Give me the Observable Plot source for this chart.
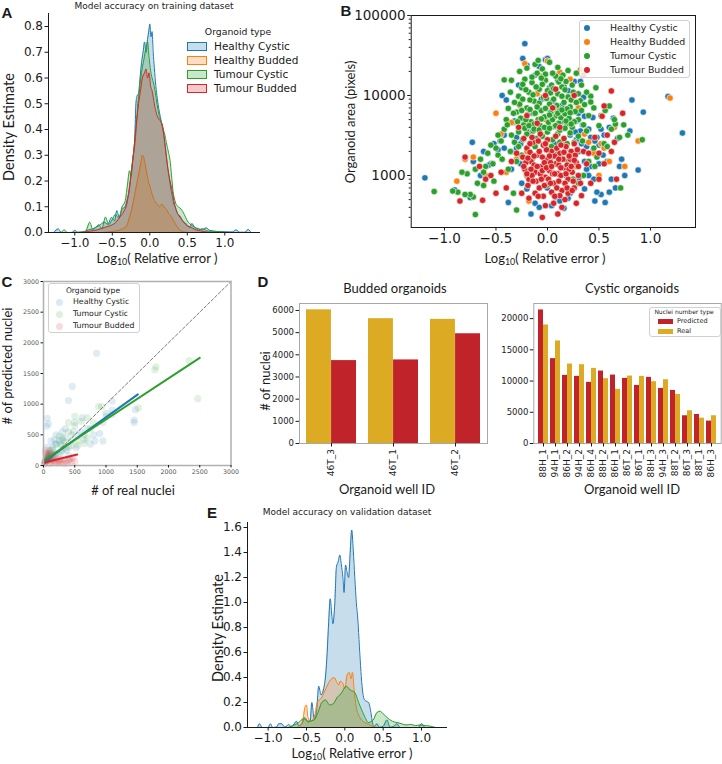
<!DOCTYPE html>
<html>
<head>
<meta charset="utf-8">
<script src="https://cdn.jsdelivr.net/npm/d3@7"></script>
<script src="https://cdn.jsdelivr.net/npm/@observablehq/plot@0.6"></script>
<style>
  html, body { margin: 0; padding: 0; background: #fff; }
  #fig { position: relative; width: 722px; height: 764px; overflow: hidden; background: #fff; font-family: "DejaVu Sans", sans-serif; color: #1a1a1a; }
  #fig svg { position: absolute; overflow: visible; }
  .t { position: absolute; transform: translate(-50%, -50%); white-space: nowrap; line-height: 1; }
  .cal { font-family: Lato, "Open Sans", sans-serif; font-size: 13px; }
  .ttl { font-family: "DejaVu Sans", sans-serif; font-size: 9px; }
  .letter { font-family: "Liberation Sans", Arial, sans-serif; font-weight: bold; font-size: 15px; }
  sub { font-size: 0.68em; vertical-align: -0.3em; line-height: 0; }
  .box { position: absolute; background: rgba(255,255,255,0.85); border: 1px solid #d0d0d0; border-radius: 3px; box-sizing: border-box; }
  .lg { position: absolute; white-space: nowrap; line-height: 1; transform: translateY(-50%); font-family: "DejaVu Sans", sans-serif; }
  .sw { position: absolute; box-sizing: border-box; }
</style>
</head>
<body>
<div id="fig"></div>
<script>
// ---------------------------------------------------------------
// Categories and colours
// ---------------------------------------------------------------
const organoidTypes = ["Healthy Cystic", "Healthy Budded", "Tumour Cystic", "Tumour Budded"];
const typeColors = ["#1f77b4", "#ff7f0e", "#2ca02c", "#d62728"];
const errorTicks = [-1.0, -0.5, 0.0, 0.5, 1.0];

// ---------------------------------------------------------------
// A: density of log10 relative error, training dataset  [x, density]
// ---------------------------------------------------------------
const trainHealthyCystic = [[-1.28,0],[-1.22,0.014],[-1.18,0],[-1.04,0],[-1.0,0.008],[-0.96,0],[-0.88,0.003],[-0.82,0.01],[-0.76,0.014],[-0.72,0.02],[-0.66,0.03],[-0.61,0.04],[-0.56,0.032],[-0.51,0.058],[-0.47,0.045],[-0.44,0.085],[-0.41,0.06],[-0.37,0.09],[-0.33,0.1],[-0.3,0.13],[-0.27,0.17],[-0.25,0.23],[-0.22,0.3],[-0.2,0.37],[-0.185,0.5],[-0.17,0.53],[-0.15,0.54],[-0.13,0.6],[-0.11,0.66],[-0.09,0.7],[-0.07,0.74],[-0.05,0.7],[-0.03,0.75],[-0.01,0.79],[0.0,0.81],[0.015,0.76],[0.03,0.78],[0.045,0.7],[0.06,0.64],[0.08,0.57],[0.1,0.52],[0.12,0.48],[0.14,0.45],[0.16,0.42],[0.18,0.39],[0.2,0.35],[0.22,0.3],[0.24,0.25],[0.26,0.21],[0.28,0.17],[0.3,0.14],[0.32,0.11],[0.34,0.1],[0.36,0.08],[0.38,0.07],[0.4,0.065],[0.43,0.05],[0.46,0.04],[0.5,0.03],[0.53,0.02],[0.56,0.035],[0.6,0.02],[0.65,0.015],[0.7,0.01],[0.75,0.018],[0.8,0.008],[0.9,0.004],[1.0,0.003],[1.1,0.002],[1.15,0.01],[1.2,0.001],[1.27,0.001],[1.31,0.012],[1.35,0]];
const trainHealthyBudded = [[-0.62,0],[-0.5,0.004],[-0.42,0.008],[-0.36,0.015],[-0.31,0.025],[-0.28,0.05],[-0.25,0.08],[-0.22,0.12],[-0.2,0.15],[-0.18,0.18],[-0.16,0.21],[-0.14,0.24],[-0.12,0.27],[-0.1,0.3],[-0.08,0.29],[-0.06,0.26],[-0.04,0.23],[-0.02,0.2],[0.0,0.18],[0.02,0.16],[0.04,0.14],[0.07,0.12],[0.1,0.11],[0.13,0.1],[0.16,0.11],[0.19,0.1],[0.22,0.09],[0.25,0.075],[0.28,0.065],[0.31,0.05],[0.34,0.035],[0.37,0.02],[0.41,0.008],[0.46,0.002],[0.52,0]];
const trainTumourCystic = [[-1.18,0],[-1.14,0.01],[-1.1,0],[-0.86,0.003],[-0.8,0.04],[-0.76,0.01],[-0.72,0.02],[-0.68,0.03],[-0.64,0.015],[-0.59,0.06],[-0.55,0.03],[-0.5,0.05],[-0.46,0.07],[-0.41,0.055],[-0.37,0.1],[-0.33,0.12],[-0.3,0.18],[-0.27,0.24],[-0.25,0.22],[-0.23,0.28],[-0.2,0.34],[-0.18,0.41],[-0.16,0.5],[-0.14,0.55],[-0.12,0.6],[-0.1,0.64],[-0.08,0.67],[-0.05,0.72],[-0.03,0.74],[-0.01,0.68],[0.01,0.63],[0.03,0.6],[0.05,0.58],[0.07,0.55],[0.09,0.51],[0.12,0.46],[0.15,0.43],[0.18,0.4],[0.2,0.38],[0.22,0.35],[0.25,0.31],[0.27,0.28],[0.29,0.22],[0.31,0.16],[0.33,0.13],[0.35,0.11],[0.38,0.1],[0.42,0.09],[0.46,0.07],[0.5,0.045],[0.55,0.03],[0.6,0.02],[0.65,0.01],[0.7,0.015],[0.78,0.005],[0.9,0.004],[1.0,0]];
const trainTumourBudded = [[-0.9,0],[-0.8,0.005],[-0.7,0.01],[-0.6,0.02],[-0.5,0.03],[-0.45,0.04],[-0.4,0.06],[-0.35,0.08],[-0.3,0.12],[-0.27,0.18],[-0.25,0.22],[-0.22,0.3],[-0.2,0.36],[-0.18,0.42],[-0.15,0.5],[-0.12,0.56],[-0.1,0.6],[-0.07,0.62],[-0.05,0.635],[-0.03,0.6],[-0.01,0.62],[0.01,0.57],[0.03,0.55],[0.06,0.5],[0.09,0.46],[0.12,0.44],[0.15,0.43],[0.17,0.415],[0.19,0.37],[0.21,0.32],[0.23,0.27],[0.25,0.23],[0.27,0.2],[0.3,0.16],[0.33,0.11],[0.36,0.08],[0.4,0.06],[0.45,0.04],[0.5,0.025],[0.55,0.02],[0.6,0.012],[0.7,0.005],[0.8,0]];
const trainDensityTicks = [0, 0.1, 0.2, 0.3, 0.4, 0.5, 0.6, 0.7, 0.8];

// ---------------------------------------------------------------
// B: organoid area vs log10 relative error  [x, area in pixels]
// ---------------------------------------------------------------
const areaHealthyCystic = [[-1.19,935],[-0.9,660],[-0.75,530],[-0.72,1500],[-0.73,2600],[-0.62,2000],[-0.55,1400],[-0.52,2500],[-0.48,2100],[-0.44,10000],[-0.42,3200],[-0.4,8800],[-0.38,460],[-0.35,2000],[-0.33,4600],[-0.3,3000],[-0.28,13500],[-0.25,800],[-0.22,44500],[-0.24,29000],[-0.2,24000],[-0.18,3500],[-0.16,330],[-0.14,6000],[-0.12,18000],[-0.1,2700],[-0.08,23000],[-0.06,9000],[-0.04,5200],[-0.02,28000],[0.0,700],[0.02,12500],[0.04,1700],[0.06,5800],[0.08,540],[0.1,15500],[0.12,3700],[0.14,7500],[0.16,390],[0.18,2200],[0.2,11500],[0.22,600],[0.24,6200],[0.26,15000],[0.28,2800],[0.3,900],[0.32,15000],[0.34,4300],[0.36,680],[0.38,2300],[0.4,3800],[0.42,1300],[0.44,5300],[0.46,480],[0.48,3000],[0.5,2400],[0.52,580],[0.54,1800],[0.56,460],[0.58,1500],[0.6,4000],[0.62,900],[0.64,5200],[0.66,700],[0.68,2900],[0.7,1300],[0.75,1000],[0.8,3600],[0.82,8800],[0.88,1170],[0.93,6200],[1.17,9700],[1.31,3400],[0.6,620],[-0.3,2200],[-0.26,1400],[-0.2,680],[-0.12,450],[0.04,420],[0.12,480],[0.18,1000],[0.25,1300],[0.32,3600],[-0.15,1600],[-0.05,1200],[0.07,2500],[0.15,4800],[0.22,3200],[0.35,9500],[0.28,4800],[-0.32,4800],[-0.46,2700],[0.44,2000],[0.5,1400],[0.4,1000],[0.3,2000],[0.36,1500],[0.55,3200],[0.72,1600],[-0.57,1350],[-0.65,1000],[0.0,29000],[-0.26,2500],[-0.22,4500],[-0.1,8000],[0.05,8500],[0.16,13000],[-0.04,16000],[0.27,3500],[0.33,2500],[0.38,1200],[0.42,3000],[0.46,2700],[0.52,3800],[0.3,6000],[0.36,5500],[-0.35,1200],[-0.42,2200],[0.45,900],[0.48,620],[0.2,520],[-0.08,400]];
const areaHealthyBudded = [[-0.88,850],[-0.8,1600],[-0.72,1700],[-0.6,1000],[-0.5,6000],[-0.45,3300],[-0.4,1100],[-0.35,4600],[-0.3,1600],[-0.27,7500],[-0.22,25000],[-0.18,480],[-0.15,3900],[-0.1,10500],[-0.05,17500],[0.0,27000],[0.05,600],[0.08,6600],[0.12,19500],[0.18,2300],[0.22,16000],[0.28,1300],[0.32,21000],[0.36,3300],[0.4,2600],[0.45,1900],[0.5,1000],[0.52,2500],[0.55,2200],[0.6,1500],[0.65,4000],[0.75,1300],[0.88,2700],[1.19,9300],[-0.02,5000],[0.1,1400],[0.25,900],[-0.2,2000],[0.3,7000]];
const areaTumourCystic = [[-0.28,9800],[-0.25,12500],[-0.22,16000],[-0.2,7000],[-0.18,11000],[-0.15,14500],[-0.13,8500],[-0.1,19000],[-0.08,12000],[-0.06,6500],[-0.04,9500],[-0.02,15500],[0.0,11500],[0.02,7800],[0.04,13500],[0.06,9000],[0.08,17500],[0.1,10500],[0.12,6800],[0.14,12800],[0.16,8200],[0.18,15000],[0.2,9600],[0.22,7200],[0.25,11000],[-0.3,6200],[-0.26,5200],[-0.23,4300],[-0.19,5800],[-0.16,4700],[-0.12,6000],[-0.09,5000],[-0.07,4200],[-0.03,5400],[0.01,4600],[0.03,6100],[0.05,5000],[0.07,4100],[0.09,5600],[0.11,4500],[0.13,5300],[0.15,4000],[0.17,5900],[0.19,4400],[0.21,5200],[0.24,4000],[0.27,6300],[0.3,5000],[0.32,8600],[0.35,4300],[-0.35,3200],[-0.32,2600],[-0.28,3500],[-0.24,2800],[-0.2,3300],[-0.17,2500],[-0.14,3600],[-0.11,2900],[-0.05,3100],[0.0,3500],[0.05,2800],[0.1,3300],[0.16,2700],[0.22,3400],[0.26,2600],[0.3,3100],[0.34,2700],[0.38,3600],[-0.2,22000],[-0.12,24500],[-0.05,21500],[0.02,26000],[-0.27,20000],[0.1,22500],[0.2,20500],[0.28,19000],[-0.09,27500],[0.15,18000],[-0.35,15500],[-0.02,18500],[0.4,5600],[0.42,9800],[0.45,7000],[0.47,12500],[0.5,4200],[0.52,5600],[0.56,6500],[0.6,7400],[0.62,3800],[0.66,4400],[0.7,3000],[0.74,4300],[0.78,3200],[0.92,2800],[0.55,2500],[0.45,2200],[0.4,1500],[0.48,1700],[0.42,8300],[0.38,11000],[0.33,13500],[0.3,10500],[0.65,5000],[0.58,2300],[0.71,700],[0.46,1300],[-0.4,5000],[-0.42,3800],[-0.45,2700],[-0.48,1800],[-0.5,2200],[-0.53,1400],[-0.55,2400],[-0.58,1900],[-0.6,1300],[-0.62,1100],[-0.65,1600],[-0.68,800],[-0.7,1200],[-0.72,540],[-0.75,580],[-0.78,1050],[-0.8,580],[-0.83,1100],[-0.87,620],[-0.92,640],[-1.1,630],[-0.7,325],[-0.38,1200],[-0.44,1600],[-0.36,2000],[-0.52,850],[-0.62,750],[-0.39,4300],[-0.48,3200],[-0.42,15700],[-0.33,6000],[-0.3,1500],[-0.33,600],[-0.3,370],[-0.25,1800],[-0.15,1600],[0.1,1900],[0.2,1500],[0.25,900],[0.3,800],[-0.2,1000],[0.0,760],[0.35,1000],[-0.27,7800],[-0.24,9000],[-0.21,11800],[-0.17,8800],[-0.14,10200],[-0.11,12800],[-0.08,8000],[-0.05,13800],[-0.01,9200],[0.03,10800],[0.06,12200],[0.09,7500],[0.11,14800],[0.14,9800],[0.17,11800],[0.19,6800],[0.23,8800],[-0.29,4700],[-0.25,6500],[-0.21,5000],[-0.17,6700],[-0.13,4400],[-0.1,7200],[-0.06,5100],[-0.02,6900],[0.02,5700],[0.06,7000],[0.1,6000],[0.14,6600],[0.18,4800],[0.22,6100],[0.26,4700],[-0.22,3900],[-0.18,4200],[-0.13,3800],[-0.08,3700],[-0.03,4000],[0.02,3900],[0.08,4200],[0.12,3700],[0.17,3900],[0.23,4400],[-0.15,17000],[-0.06,16500],[0.05,19000],[0.13,16200],[-0.24,13800],[0.24,13500],[-0.32,8200],[0.28,8200],[-0.36,11000],[0.33,6500],[-0.38,6900],[0.36,7700],[-0.12,2300],[0.04,2300],[0.19,2500],[-0.28,2300],[0.12,2600]];
const areaTumourBudded = [[-0.24,1700],[-0.22,1200],[-0.2,2200],[-0.18,900],[-0.16,1500],[-0.14,2600],[-0.12,1100],[-0.1,1800],[-0.08,700],[-0.06,1300],[-0.04,2400],[-0.02,950],[0.0,1600],[0.02,1150],[0.04,2000],[0.06,800],[0.08,1400],[0.1,1050],[0.12,1900],[0.14,650],[0.16,1250],[0.18,2300],[0.2,900],[0.22,1600],[0.24,1100],[0.26,700],[0.28,1450],[0.3,1000],[-0.21,1450],[-0.17,1950],[-0.13,1350],[-0.09,2700],[-0.05,1700],[-0.01,2100],[0.03,1450],[0.07,1750],[0.11,1350],[0.15,1600],[0.19,1350],[0.23,2000],[0.27,1800],[-0.19,750],[-0.15,1000],[-0.11,850],[-0.07,1050],[-0.03,750],[0.01,900],[0.05,1050],[0.09,700],[0.13,1000],[0.17,800],[0.21,1200],[0.25,850],[-0.23,2900],[-0.15,3000],[-0.07,3300],[0.0,2800],[0.08,3100],[0.16,2900],[0.26,2500],[-0.12,600],[-0.04,550],[0.04,620],[0.12,560],[0.2,600],[-0.02,420],[0.06,450],[0.14,400],[-0.05,300],[0.1,330],[-0.25,600],[0.28,450],[0.33,560],[-0.1,4500],[0.05,7000],[-0.02,10000],[0.12,4000],[-0.2,5600],[0.26,10000],[-0.28,4000],[0.08,12000],[-0.85,480],[-0.8,1700],[-0.63,490],[-0.66,1300],[-0.6,900],[-0.55,1000],[-0.5,600],[-0.45,1100],[-0.4,700],[-0.35,1500],[-0.3,1900],[0.35,2000],[0.38,1400],[0.42,800],[0.46,3000],[0.5,1900],[0.53,5500],[0.55,7400],[0.58,3200],[0.62,11400],[0.65,2600],[0.67,900],[0.73,6000],[0.5,900],[0.4,1900],[0.35,18000],[0.55,1400],[0.62,2000],[-0.23,1300],[-0.19,1650],[-0.16,1200],[-0.13,1750],[-0.1,1300],[-0.08,2000],[-0.05,1150],[-0.03,1450],[-0.01,1250],[0.02,1750],[0.04,1300],[0.07,1050],[0.09,2200],[0.11,1600],[0.13,1250],[0.16,1950],[0.18,1050],[0.21,1750],[0.23,1300],[0.26,1550],[-0.2,1050],[-0.14,850],[-0.06,900],[0.03,800],[0.11,850],[0.19,700],[0.24,650],[-0.17,2500],[-0.02,2500],[0.13,2400],[0.29,2100],[-0.09,550],[0.07,550],[0.17,500],[-0.18,520],[0.3,1300],[0.32,800]];
const areaMajorTicks = [1000, 10000, 100000];
const areaMinorTicks = [300, 400, 500, 600, 700, 800, 900, 2000, 3000, 4000, 5000, 6000, 7000, 8000, 9000, 20000, 30000, 40000, 50000, 60000, 70000, 80000, 90000];

// ---------------------------------------------------------------
// C: predicted vs real nuclei per organoid  [real, predicted]
// ---------------------------------------------------------------
const countHealthyCystic = [[850,1830],[460,1290],[400,1060],[60,770],[80,680],[50,640],[1450,700],[1450,740],[1470,910],[1100,1050],[1100,900],[620,780],[700,600],[800,500],[900,520],[500,700],[300,550],[350,450],[250,400],[200,350],[150,300],[120,250],[100,200],[80,150],[60,120],[40,80],[20,50],[450,400],[550,480],[650,420],[750,350],[400,300],[300,250],[200,200],[180,420],[350,600],[480,550],[600,550],[1000,850],[950,700],[250,180],[150,120],[100,90],[60,300],[30,200],[520,290],[400,160],[270,350],[370,250],[820,400],[950,400],[120,400],[200,500],[300,420],[130,170]];
const countTumourCystic = [[1800,1610],[1780,1560],[2330,1710],[2470,1090],[1520,940],[930,960],[880,960],[700,780],[600,720],[500,650],[400,550],[300,450],[200,350],[150,250],[100,200],[250,480],[350,380],[450,500],[550,400],[650,500],[750,600],[800,700],[650,360],[550,330],[450,320],[350,280],[280,220],[180,170],[120,120],[80,90],[300,330],[500,800],[400,700],[700,450],[1000,800],[1100,830],[60,150],[40,80]];
const countTumourBudded = [[500,70],[450,60],[400,80],[350,70],[300,100],[250,90],[200,120],[150,130],[100,150],[80,110],[60,90],[40,70],[20,40],[10,20],[50,200],[30,250],[70,180],[120,60],[170,50],[220,40],[280,50],[320,30],[380,40],[420,110],[470,130],[100,30],[150,80],[200,70],[250,60],[50,130],[30,100],[90,240],[130,200]];
// linear fits (endpoints) and the identity line
const fitHealthyCystic = [[20,70],[1510,1160]];
const fitTumourCystic = [[10,90],[2500,1755]];
const fitTumourBudded = [[0,45],[540,178]];
const identityLine = [[0,0],[3000,3000]];
const countTicks = [0, 500, 1000, 1500, 2000, 2500, 3000];

// ---------------------------------------------------------------
// D: nuclei counts per organoid well
// ---------------------------------------------------------------
const buddedWells = ["46T_3", "46T_1", "46T_2"];
const buddedReal = [6030, 5630, 5600];
const buddedPredicted = [3740, 3770, 4950];
const buddedTicks = [0, 1000, 2000, 3000, 4000, 5000, 6000];

const cysticWells = ["88H_1","94H_1","86H_2","94H_2","86H_4","88H_2","86H_1","86T_2","86T_1","88H_3","94H_3","88T_2","86T_3","88T_1","86H_3"];
const cysticPredicted = [21390, 13590, 10910, 10750, 9790, 11600, 10960, 10430, 9300, 10590, 8820, 8500, 4440, 4650, 3590];
const cysticReal = [18980, 16420, 12730, 12620, 12030, 10380, 8670, 10800, 10750, 9890, 10210, 7860, 5240, 4060, 4440];
const cysticTicks = [0, 5000, 10000, 15000, 20000];
const nucleiTypes = ["Predicted", "Real"];
const nucleiColors = ["#c1232a", "#dcab23"];

// ---------------------------------------------------------------
// E: density of log10 relative error, validation dataset
// ---------------------------------------------------------------
const validHealthyCystic = [[-1.14,0],[-1.11,0.03],[-1.08,0],[-1.0,0],[-0.97,0.03],[-0.94,0],[-0.89,0.005],[-0.86,0.03],[-0.82,0.03],[-0.79,0.005],[-0.76,0.01],[-0.73,0.025],[-0.7,0.005],[-0.66,0.03],[-0.63,0.05],[-0.6,0.015],[-0.56,0.03],[-0.52,0.08],[-0.48,0.04],[-0.45,0.06],[-0.43,0.2],[-0.4,0.07],[-0.37,0.12],[-0.34,0.33],[-0.31,0.26],[-0.28,0.3],[-0.25,0.42],[-0.23,0.6],[-0.21,0.85],[-0.19,1.03],[-0.17,0.9],[-0.155,0.83],[-0.13,1.0],[-0.11,1.28],[-0.085,1.33],[-0.065,1.38],[-0.045,1.3],[-0.025,1.2],[-0.01,1.08],[0.01,1.3],[0.03,1.24],[0.05,1.2],[0.07,1.4],[0.09,1.58],[0.11,1.42],[0.13,1.2],[0.15,1.0],[0.17,0.86],[0.19,0.65],[0.21,0.45],[0.23,0.3],[0.25,0.23],[0.28,0.21],[0.31,0.2],[0.34,0.12],[0.36,0.04],[0.38,0.005],[0.42,0.03],[0.45,0.002],[0.5,0.01],[0.55,0.06],[0.59,0.002],[0.64,0.01],[0.68,0.03],[0.72,0],[0.96,0],[1.0,0.03],[1.04,0]];
const validHealthyBudded = [[-0.62,0],[-0.58,0.02],[-0.55,0.05],[-0.52,0.16],[-0.5,0.18],[-0.48,0.08],[-0.45,0.05],[-0.42,0.06],[-0.39,0.1],[-0.36,0.2],[-0.33,0.22],[-0.3,0.24],[-0.27,0.28],[-0.24,0.32],[-0.2,0.37],[-0.17,0.39],[-0.14,0.4],[-0.11,0.37],[-0.08,0.34],[-0.06,0.37],[-0.03,0.36],[0.0,0.31],[0.03,0.42],[0.06,0.44],[0.08,0.39],[0.1,0.44],[0.12,0.31],[0.15,0.16],[0.18,0.1],[0.22,0.06],[0.26,0.04],[0.3,0.03],[0.34,0.015],[0.38,0.005],[0.42,0]];
const validTumourCystic = [[-0.74,0],[-0.66,0.02],[-0.6,0.04],[-0.54,0.07],[-0.47,0.05],[-0.4,0.06],[-0.35,0.12],[-0.3,0.2],[-0.25,0.22],[-0.2,0.18],[-0.15,0.19],[-0.1,0.24],[-0.05,0.27],[0.02,0.33],[0.07,0.3],[0.13,0.28],[0.18,0.2],[0.25,0.1],[0.31,0.04],[0.37,0.06],[0.42,0.12],[0.46,0.13],[0.5,0.11],[0.55,0.08],[0.62,0.05],[0.68,0.04],[0.74,0.03],[0.8,0.02],[0.86,0.025],[0.92,0.015],[0.98,0.02],[1.05,0.015],[1.12,0.01],[1.18,0]];
const validDensityTicks = [0, 0.2, 0.4, 0.6, 0.8, 1.0, 1.2, 1.4, 1.6];

// ---------------------------------------------------------------
// Layout helpers
// ---------------------------------------------------------------
const fig = document.getElementById("fig");
function place(node, left, top) {
  node.style.left = left + "px";
  node.style.top = top + "px";
  fig.appendChild(node);
  return node;
}
function text(html, x, y, cls, rotate) {
  const d = document.createElement("div");
  d.className = "t " + (cls || "");
  d.innerHTML = html;
  d.style.left = x + "px";
  d.style.top = y + "px";
  if (rotate) d.style.transform = "translate(-50%, -50%) rotate(-90deg)";
  fig.appendChild(d);
  return d;
}
function div(cls, css, html) {
  const d = document.createElement("div");
  d.className = cls;
  Object.assign(d.style, css);
  if (html) d.innerHTML = html;
  fig.appendChild(d);
  return d;
}
const signed = (v, digits) => v.toFixed(digits).replace("-", "\u2212");
const plain = d => String(d);
const styleAt = size => ({fontFamily: "DejaVu Sans", fontSize: size + "px", color: "#1a1a1a", background: "transparent", overflow: "visible"});
const pt = {x: d => d[0], y: d => d[1]};

// ---------------------------------------------------------------
// Density panel (A and E)
// ---------------------------------------------------------------
function densityPanel({series, width, height, margin, xDomain, yDomain, yTicks}) {
  const marks = [];
  series.forEach(s => {
    marks.push(Plot.areaY(s.values, {...pt, fill: s.color, fillOpacity: 0.25, curve: "monotone-x"}));
    marks.push(Plot.lineY(s.values, {...pt, stroke: s.color, strokeWidth: 1, curve: "monotone-x"}));
  });
  marks.push(
    Plot.ruleY([yDomain[0]], {stroke: "#1a1a1a", strokeWidth: 1}),
    Plot.ruleX([xDomain[0]], {stroke: "#1a1a1a", strokeWidth: 1}),
    Plot.axisY({ticks: yTicks, tickFormat: d => d.toFixed(1), tickSize: 3.5, tickPadding: 2, fontSize: 12, label: null}),
    Plot.axisX({ticks: errorTicks, tickFormat: d => signed(d, 1), tickSize: 3.5, tickPadding: 2, fontSize: 12, label: null})
  );
  return Plot.plot({
    width, height, ...margin,
    style: styleAt(12),
    x: {domain: xDomain},
    y: {domain: yDomain},
    marks
  });
}

// ---- A ----
place(densityPanel({
  series: [
    {values: trainHealthyCystic, color: typeColors[0]},
    {values: trainHealthyBudded, color: typeColors[1]},
    {values: trainTumourCystic, color: typeColors[2]},
    {values: trainTumourBudded, color: typeColors[3]}
  ],
  width: 270, height: 260,
  margin: {marginLeft: 48, marginRight: 10, marginTop: 13, marginBottom: 28},
  xDomain: [-1.351, 1.476], yDomain: [0, 0.8505], yTicks: trainDensityTicks
}), 0, 0);

// ---- B ----
const areaSets = [areaHealthyCystic, areaHealthyBudded, areaTumourCystic, areaTumourBudded];
place(Plot.plot({
  width: 392, height: 265,
  marginLeft: 80.7, marginRight: 27, marginTop: 15, marginBottom: 38,
  style: styleAt(13.5),
  x: {domain: [-1.323, 1.437]},
  y: {type: "log", domain: [224, 100000]},
  marks: [
    ...areaSets.map((pts, i) => Plot.dot(pts, {...pt, r: 3.2, fill: typeColors[i], stroke: "white", strokeWidth: 0.6})),
    Plot.frame({stroke: "#1a1a1a", strokeWidth: 1}),
    Plot.axisY({ticks: areaMajorTicks, tickFormat: plain, tickSize: 3.5, tickPadding: 2, fontSize: 13.5, label: null}),
    Plot.axisY({ticks: areaMinorTicks, tickFormat: () => "", tickSize: 2, label: null}),
    Plot.axisX({ticks: errorTicks, tickFormat: d => signed(d, 1), tickSize: 3.5, tickPadding: 2, fontSize: 13.5, label: null})
  ]
}), 330, 0);

// ---- C ----
const countSets = [countHealthyCystic, countTumourCystic, countTumourBudded];
const countColors = [typeColors[0], typeColors[2], typeColors[3]];
const fits = [fitHealthyCystic, fitTumourCystic, fitTumourBudded];
place(Plot.plot({
  width: 240, height: 215,
  marginLeft: 43, marginRight: 9.5, marginTop: 6, marginBottom: 25,
  style: styleAt(6.3),
  x: {domain: [0, 3000]},
  y: {domain: [0, 3000]},
  marks: [
    ...countSets.map((pts, i) => Plot.dot(pts, {...pt, r: 3.6, fill: countColors[i], fillOpacity: 0.14})),
    Plot.line(identityLine, {...pt, stroke: "#555", strokeWidth: 0.8, strokeDasharray: "3,2"}),
    ...fits.map((f, i) => Plot.line(f, {...pt, stroke: countColors[i], strokeWidth: 2})),
    Plot.frame({stroke: "#b0b0b0", strokeWidth: 1.5}),
    Plot.axisY({ticks: countTicks, tickFormat: plain, tickSize: 2.5, tickPadding: 2, fontSize: 6.3, fill: "#555", label: null}),
    Plot.axisX({ticks: countTicks, tickFormat: plain, tickSize: 2.5, tickPadding: 2, fontSize: 6.3, fill: "#555", label: null})
  ]
}), 0, 275);

// ---- D: grouped bars ----
function barPanel({wells, left, right, leftColor, rightColor, width, height, margin, yDomain, yTicks}) {
  const inner = width - margin.marginLeft - margin.marginRight;
  const half = inner / wells.length * 0.8 / 2;
  const leftRows = wells.map((w, i) => ({well: w, value: left[i]}));
  const rightRows = wells.map((w, i) => ({well: w, value: right[i]}));
  return Plot.plot({
    width, height, ...margin,
    style: styleAt(8.5),
    x: {domain: wells, paddingInner: 0.2, paddingOuter: 0.1},
    y: {domain: yDomain},
    marks: [
      Plot.barY(leftRows, {x: "well", y: "value", fill: leftColor, insetRight: half}),
      Plot.barY(rightRows, {x: "well", y: "value", fill: rightColor, insetLeft: half}),
      Plot.frame({stroke: "#a8a8a8", strokeWidth: 1}),
      Plot.axisY({ticks: yTicks, tickFormat: plain, tickSize: 3.5, tickPadding: 2, fontSize: 8.5, label: null}),
      Plot.axisX({tickRotate: -90, tickSize: 3.5, tickPadding: 2, fontSize: 9, label: null})
    ]
  });
}
place(barPanel({
  wells: buddedWells, left: buddedReal, right: buddedPredicted,
  leftColor: nucleiColors[1], rightColor: nucleiColors[0],
  width: 245, height: 200,
  margin: {marginLeft: 49, marginRight: 8, marginTop: 8, marginBottom: 52},
  yDomain: [0, 6315], yTicks: buddedTicks
}), 250, 295);
place(barPanel({
  wells: cysticWells, left: cysticPredicted, right: cysticReal,
  leftColor: nucleiColors[0], rightColor: nucleiColors[1],
  width: 227, height: 200,
  margin: {marginLeft: 38.3, marginRight: 1.3, marginTop: 8, marginBottom: 52},
  yDomain: [0, 22420], yTicks: cysticTicks
}), 495, 295);

// ---- E ----
place(densityPanel({
  series: [
    {values: validHealthyCystic, color: typeColors[0]},
    {values: validHealthyBudded, color: typeColors[1]},
    {values: validTumourCystic, color: typeColors[2]}
  ],
  width: 270, height: 254,
  margin: {marginLeft: 57, marginRight: 13, marginTop: 12, marginBottom: 37},
  xDomain: [-1.269, 1.339], yDomain: [0, 1.64], yTicks: validDensityTicks
}), 190, 510);

// ---------------------------------------------------------------
// Titles, axis labels, panel letters
// ---------------------------------------------------------------
const errLabel = "Log<sub>10</sub>( Relative error )";
text("A", 7, 12, "letter");
text("B", 346, 10, "letter");
text("C", 7, 281, "letter");
text("D", 263, 281, "letter");
text("E", 212, 512, "letter");

text("Model accuracy on training dataset", 154, 6, "ttl");
text(errLabel, 157, 258, "cal");
text("Density Estimate", 9, 127, "cal", true).style.fontSize = "14.5px";

text(errLabel, 545, 258, "cal");
text("Organoid area (pixels)", 350, 122, "cal", true);

text("# of real nuclei", 133, 490, "cal");
text("# of predicted nuclei", 7, 366, "cal", true);

text("Budded organoids", 395, 288, "cal");
text("Cystic organoids", 632, 288, "cal");
text("Organoid well ID", 387, 489, "cal");
text("Organoid well ID", 632, 489, "cal");
text("# of nuclei", 265, 381, "cal", true);

text("Model accuracy on validation dataset", 347, 512, "ttl");
text(errLabel, 352, 753, "cal");
text("Density Estimate", 218, 628, "cal", true).style.fontSize = "14.5px";

// ---------------------------------------------------------------
// Legends
// ---------------------------------------------------------------
// A: filled swatches, no frame
text("Organoid type", 238, 32, "ttl").style.fontSize = "9.3px";
organoidTypes.forEach((name, i) => {
  const y = 46 + i * 14;
  div("sw", {left: "187px", top: (y - 4.5) + "px", width: "20px", height: "9px",
    background: d3.color(typeColors[i]).copy({opacity: 0.25}).formatRgb(), border: "1px solid " + typeColors[i]});
  div("lg", {left: "214px", top: y + "px", fontSize: "10.5px"}, name);
});

// B: dots in a framed box
div("box", {left: "579px", top: "20px", width: "111px", height: "58px"});
organoidTypes.forEach((name, i) => {
  const y = 27.5 + i * 14.2;
  div("sw", {left: "584px", top: (y - 3) + "px", width: "6px", height: "6px", borderRadius: "50%", background: typeColors[i]});
  div("lg", {left: "610px", top: y + "px", fontSize: "9.4px"}, name);
});

// C: faded markers in a framed box
div("box", {left: "48px", top: "283px", width: "92px", height: "50px"});
text("Organoid type", 93, 291, "ttl").style.fontSize = "7.6px";
["Healthy Cystic", "Tumour Cystic", "Tumour Budded"].forEach((name, i) => {
  const y = 302 + i * 12;
  div("sw", {left: "55.5px", top: (y - 3.5) + "px", width: "7px", height: "7px", borderRadius: "50%",
    background: d3.color(countColors[i]).copy({opacity: 0.16}).formatRgb()});
  div("lg", {left: "73px", top: y + "px", fontSize: "7.8px"}, name);
});

// D: bar colours
div("box", {left: "649px", top: "307px", width: "72px", height: "30px"});
text("Nuclei number type", 684, 311.5, "ttl").style.fontSize = "6px";
nucleiTypes.forEach((name, i) => {
  const y = 321 + i * 10;
  div("sw", {left: "658px", top: (y - 2.5) + "px", width: "15px", height: "5px", background: nucleiColors[i]});
  div("lg", {left: "677px", top: y + "px", fontSize: "6.5px"}, name);
});
</script>
</body>
</html>
